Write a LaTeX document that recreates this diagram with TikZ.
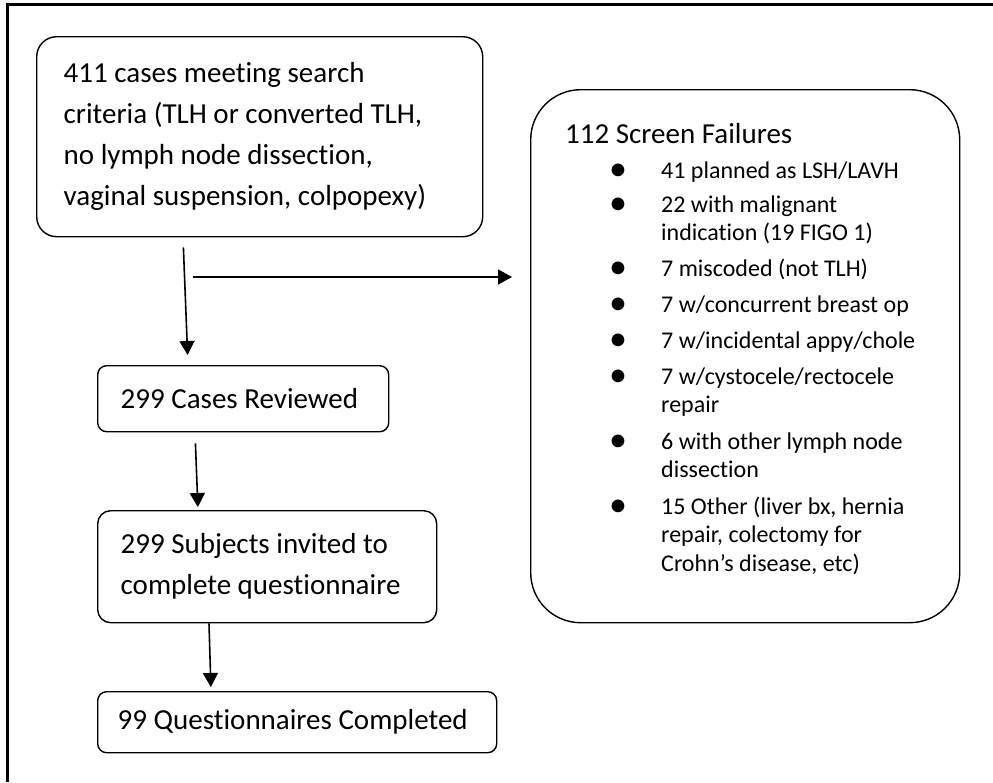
\documentclass[tikz,border=0pt]{standalone}
\usepackage{fontspec}
\setmainfont{Carlito}[Ligatures=NoCommon]
\usetikzlibrary{arrows.meta}

\begin{document}
\begin{tikzpicture}[
    x=1pt, y=-1pt,
    flowbox/.style={draw, line width=1.4pt, align=flush left, anchor=north west, inner xsep=23pt, inner ysep=0pt, font=\fontsize{29}{41}\selectfont},
    itemtext/.style={anchor=base west, align=flush left, inner sep=0pt, font=\fontsize{24}{28.5}\selectfont},
    dot/.style={anchor=base, inner sep=0pt, font=\fontsize{36}{36}\selectfont},
    arrow/.style={-{Triangle[length=14pt, width=15pt]}, line width=1.6pt}
]
\useasboundingbox (0,0) rectangle (993,782);
% page frame
\draw[line width=3pt] (993,4) -- (7,4) -- (7,782);

% main flow
\node[flowbox, rounded corners=20pt, inner xsep=27pt, text width=392pt, minimum height=200pt] (cases) at (36,36) {411 cases meeting search\\criteria (TLH or converted TLH,\\no lymph node dissection,\\vaginal suspension, colpopexy)};
\node[flowbox, rounded corners=9pt, text width=245pt, minimum height=66pt] (reviewed) at (97,365) {299 Cases Reviewed};
\node[flowbox, rounded corners=13pt, text width=293pt, minimum height=112pt] (invited) at (97,510) {299 Subjects invited to\\complete questionnaire};
\node[flowbox, rounded corners=9pt, inner xsep=20pt, text width=359pt, minimum height=61pt] (completed) at (97,691) {99 Questionnaires Completed};

% screen failures (base = last line of each item)
\node[flowbox, rounded corners=50pt, minimum width=429pt, minimum height=533pt] (fail) at (530,89) {};
\node[anchor=base west, inner sep=0pt, font=\fontsize{29}{41}\selectfont] (failtitle) at (565,143) {112 Screen Failures};
\node[dot] (dot1) at (618,180) {\textbullet};
\node[itemtext] (item1) at (661,178) {41 planned as LSH/LAVH};
\node[dot] (dot2) at (618,214) {\textbullet};
\node[itemtext] (item2) at (661,240.5) {22 with malignant\\indication (19 FIGO 1)};
\node[dot] (dot3) at (618,278) {\textbullet};
\node[itemtext] (item3) at (661,276) {7 miscoded (not TLH)};
\node[dot] (dot4) at (618,314) {\textbullet};
\node[itemtext] (item4) at (661,312) {7 w/concurrent breast op};
\node[dot] (dot5) at (618,350) {\textbullet};
\node[itemtext] (item5) at (661,348) {7 w/incidental appy/chole};
\node[dot] (dot6) at (618,386) {\textbullet};
\node[itemtext] (item6) at (661,412.5) {7 w/cystocele/rectocele\\repair};
\node[dot] (dot7) at (618,451) {\textbullet};
\node[itemtext] (item7) at (661,477.5) {6 with other lymph node\\dissection};
\node[dot] (dot8) at (618,516) {\textbullet};
\node[itemtext] (item8) at (661,571) {15 Other (liver bx, hernia\\repair, colectomy for\\Crohn’s disease, etc)};

% arrows
\coordinate (split) at (193,277);
\draw[arrow, shorten <=10pt, shorten >=10pt] ([xshift=147pt]cases.south west) -- ([xshift=91pt]reviewed.north west);
\draw[arrow, shorten >=18pt] (split) -- (split -| fail.west);
\draw[arrow, shorten <=11pt, shorten >=3pt] ([xshift=98pt]reviewed.south west) -- ([xshift=101pt]invited.north west);
\draw[arrow, shorten >=4pt] ([xshift=112pt]invited.south west) -- ([xshift=114pt]completed.north west);
\end{tikzpicture}
\end{document}
